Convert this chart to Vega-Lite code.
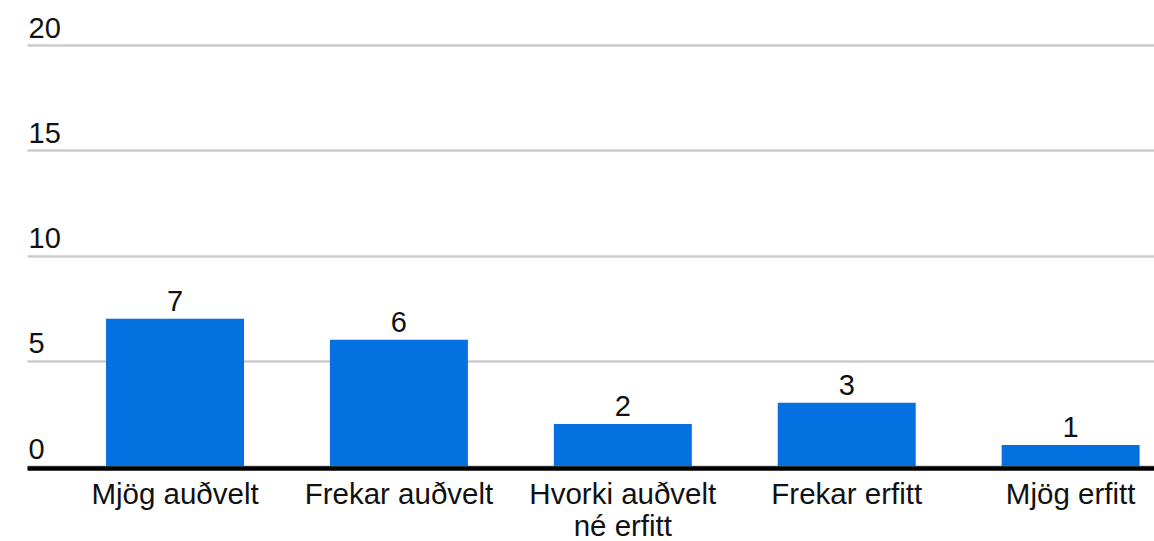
{
  "$schema": "https://vega.github.io/schema/vega-lite/v6.json",
  "autosize": {"type": "none"},
  "padding": {"left": 27, "top": 45, "right": 0, "bottom": 75},
  "width": 1127,
  "height": 421,
  "background": "white",
  "config": {
    "view": {"stroke": null},
    "font": "Liberation Sans"
  },
  "data": {
    "values": [
      {"svar": "Mjög auðvelt", "fjoldi": 7},
      {"svar": "Frekar auðvelt", "fjoldi": 6},
      {"svar": "Hvorki auðvelt né erfitt", "fjoldi": 2},
      {"svar": "Frekar erfitt", "fjoldi": 3},
      {"svar": "Mjög erfitt", "fjoldi": 1}
    ]
  },
  "encoding": {
    "x": {
      "field": "svar",
      "type": "nominal",
      "sort": null,
      "scale": {"paddingInner": 0.3837, "paddingOuter": 0.2086, "align": 0.846},
      "axis": {
        "title": null,
        "labelAngle": 0,
        "labelFont": "Liberation Sans",
        "labelFontSize": 29.5,
        "labelColor": "#111111",
        "labelBaseline": "alphabetic",
        "labelPadding": 35,
        "labelLineHeight": 32,
        "labelLimit": 0,
        "labelOverlap": false,
        "labelExpr": "datum.value == 'Hvorki auðvelt né erfitt' ? ['Hvorki auðvelt', 'né erfitt'] : datum.label",
        "ticks": false,
        "tickSize": 0,
        "domain": true,
        "domainColor": "#000000",
        "domainWidth": 4.5,
        "offset": 2,
        "grid": false
      }
    },
    "y": {
      "field": "fjoldi",
      "type": "quantitative",
      "scale": {"domain": [0, 20], "nice": false},
      "axis": {
        "title": null,
        "values": [0, 5, 10, 15, 20],
        "labelFont": "Liberation Sans",
        "labelFontSize": 29,
        "labelColor": "#111111",
        "labelAlign": "left",
        "labelBaseline": "alphabetic",
        "labelPadding": -1,
        "labelOffset": -8,
        "ticks": false,
        "tickSize": 0,
        "domain": false,
        "grid": true,
        "gridColor": "#cccccc",
        "gridWidth": 2.7
      }
    }
  },
  "layer": [
    {
      "mark": {"type": "bar", "color": "#0571e0"}
    },
    {
      "mark": {
        "type": "text",
        "baseline": "alphabetic",
        "align": "center",
        "dy": -8,
        "font": "Liberation Sans",
        "fontSize": 29,
        "color": "#111111"
      },
      "encoding": {"text": {"field": "fjoldi", "type": "quantitative"}}
    }
  ]
}
